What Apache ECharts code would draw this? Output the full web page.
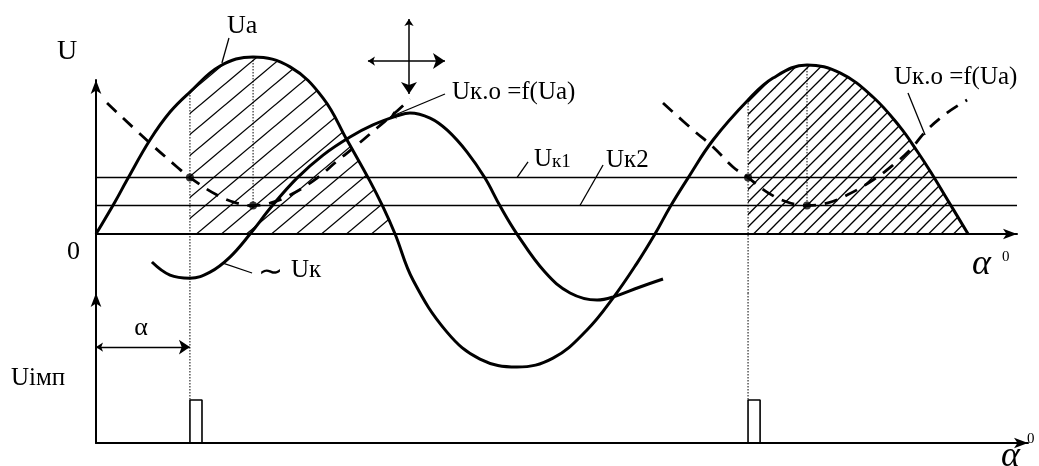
<!DOCTYPE html>
<html>
<head>
<meta charset="utf-8">
<script src="https://cdn.jsdelivr.net/npm/echarts@6/dist/echarts.min.js"></script>
<style>
  html, body { margin: 0; padding: 0; background: #fff; }
  #chart { width: 1039px; height: 466px; }
</style>
</head>
<body>
<div id="chart"></div>
<script>
// Phase angle in degrees, voltages in relative units (Ua peak = 100).

// Anode voltage Ua (two positive half-waves with the negative half-wave between them)
const uaCurve = [
  [0, 0], [11.3, 18.1], [18.5, 30.5], [32.2, 53.1], [44.2, 68.9], [56.1, 80.2],
  [74.1, 94.9], [93.8, 100], [115.9, 94.4], [135.6, 76.8], [149.9, 53.1],
  [163.6, 29.9], [171.4, 15.3], [178.6, 0], [189.3, -26.0], [209.6, -55.4],
  [229.3, -70.6], [251.4, -75.1], [272.9, -70.1], [293.2, -54.2], [308.7, -36.2],
  [323.1, -16.4], [333.8, 0], [342.8, 15.3], [353.5, 31.6], [368.5, 53.1],
  [389.4, 75.7], [404.3, 88.1], [424.6, 95.5], [444.3, 91.0], [464.0, 77.4],
  [480.1, 60.5], [490.3, 46.9], [498.1, 35.6], [508.2, 19.8], [520.8, 0]
];

// Alternating control voltage ~Uк
const ukCurve = [
  [33.4, -15.8], [44.2, -23.2], [56.1, -24.9], [68.1, -21.5], [80.0, -13.0],
  [92.0, 0], [105.1, 15.8], [120.0, 31.6], [135.6, 44.6], [151.7, 54.8],
  [165.4, 61.6], [179.8, 66.7], [187.5, 68.4], [199.5, 65.5], [209.6, 58.8],
  [221.6, 46.3], [232.3, 31.6], [241.3, 15.8], [251.4, 0], [268.1, -21.5],
  [283.1, -33.3], [299.2, -37.3], [308.7, -35.6], [324.9, -29.9], [338.6, -25.4]
];

// Critical control voltage Uк.о = f(Ua), first and second half-waves
const ukoCurve1 = [
  [6.6, 74.0], [32.2, 51.4], [48.4, 37.9], [56.1, 31.9], [72.3, 22.0],
  [84.2, 17.5], [93.8, 16.1], [103.9, 17.5], [115.9, 22.0], [132.0, 31.6],
  [143.9, 41.2], [155.9, 50.3], [167.8, 59.9], [179.8, 69.5], [187.5, 76.3]
];
const ukoCurve2 = [
  [338.6, 74.0], [356.5, 58.8], [368.5, 49.2], [380.4, 37.9], [389.4, 31.9],
  [400.7, 23.7], [412.7, 18.1], [424.6, 16.1], [436.6, 17.5], [448.5, 22.0],
  [464.0, 30.5], [476.0, 39.0], [486.1, 47.5], [496.3, 58.8], [508.2, 68.4],
  [520.2, 75.7]
];

// Control levels Uк1, Uк2 and their extent
const controlLevels = [31.9, 16.1];
const levelSpan = [0, 550];

// Firing points: angle α on Uк1 and the Ua peak on Uк2
const firingPoints = [[56.1, 31.9], [93.8, 16.1], [389.4, 31.9], [424.6, 16.1]];

// Firing angles, Ua peaks and the gate pulses
const firingAngles = [56.1, 389.4];
const peakAngles = [93.8, 424.6];
const peakValues = [100, 95.5];
const pulseWidth = 7.2;
const pulseHeight = 1;

// Axis ranges: upper (voltages) and lower (gate pulses)
const upperRange = { xMax: 550, yMin: -33.3, yMax: 87.0 };
const lowerRange = { xMax: 556.6, yMin: 0, yMax: 3.488 };

const serif = '"Liberation Serif", "Times New Roman", serif';
const black = '#000';

const chart = echarts.init(document.getElementById('chart'), null, { renderer: 'canvas' });

// Diagonal hatching tile: lines through (s, h) and (s + w, 0) repeated every `step`
function hatchTile(w, h, step, lw) {
  const c = document.createElement('canvas');
  c.width = w; c.height = h;
  const g = c.getContext('2d');
  g.strokeStyle = black;
  g.lineWidth = lw;
  for (let s = -w; s <= w + 0.01; s += step) {
    g.beginPath();
    g.moveTo(s - w, 2 * h);
    g.lineTo(s + 2 * w, -h);
    g.stroke();
  }
  return c;
}
const hatchA = { image: hatchTile(25, 21, 25, 1.3), repeat: 'repeat' };
const hatchB = { image: hatchTile(25, 25, 12.5, 1.3), repeat: 'repeat' };

// Conduction intervals: Ua from the firing angle to the end of the half-wave
const ua1End = uaCurve.find(p => p[1] === 0 && p[0] > firingAngles[0])[0];
const conduction1 = uaCurve.filter(p => p[0] >= firingAngles[0] && p[0] <= ua1End);
const conduction2 = uaCurve.filter(p => p[0] >= firingAngles[1]);

const SMOOTH = 0.4;

function axisPair(grid, r) {
  const line = {
    show: true, onZero: true,
    symbol: ['none', 'arrow'], symbolSize: [8, 14],
    lineStyle: { color: black, width: 2 }
  };
  const hidden = { axisTick: { show: false }, axisLabel: { show: false }, splitLine: { show: false } };
  return {
    x: Object.assign({ gridIndex: grid, type: 'value', min: 0, max: r.xMax, axisLine: line }, hidden),
    y: Object.assign({ gridIndex: grid, type: 'value', min: r.yMin, max: r.yMax, axisLine: line }, hidden)
  };
}
const upper = axisPair(0, upperRange);
const lower = axisPair(1, lowerRange);

const series = [];

// hatched conduction areas
[[conduction1, hatchA], [conduction2, hatchB]].forEach(([pts, pat]) => {
  series.push({
    type: 'line', data: pts, smooth: SMOOTH, symbol: 'none', clip: false, z: 1,
    lineStyle: { width: 0, opacity: 0 },
    areaStyle: { color: pat, opacity: 1 }
  });
});

// control levels
controlLevels.forEach(v => {
  series.push({
    type: 'line', data: [[levelSpan[0], v], [levelSpan[1], v]], symbol: 'none', clip: false, z: 2,
    lineStyle: { color: black, width: 1.6 }
  });
});

// dotted projection lines
const dotted = { color: black, width: 1, type: [1.5, 1.5] };
firingAngles.forEach(a => {
  const top = uaCurve.find(p => p[0] === a)[1];
  series.push({
    type: 'line', data: [[a, top], [a, upperRange.yMin]], symbol: 'none', clip: false, z: 2,
    lineStyle: dotted
  });
  series.push({
    type: 'line', xAxisIndex: 1, yAxisIndex: 1, data: [[a, lowerRange.yMax], [a, pulseHeight]],
    symbol: 'none', clip: false, z: 2, lineStyle: dotted
  });
});
peakAngles.forEach((a, i) => {
  series.push({
    type: 'line', data: [[a, peakValues[i]], [a, controlLevels[1]]], symbol: 'none', clip: false, z: 2,
    lineStyle: dotted
  });
});

// Ua and ~Uк
series.push({
  type: 'line', data: uaCurve, smooth: SMOOTH, symbol: 'none', clip: false, z: 4,
  lineStyle: { color: black, width: 3 }
});
series.push({
  type: 'line', data: ukCurve, smooth: SMOOTH, symbol: 'none', clip: false, z: 4,
  lineStyle: { color: black, width: 3 }
});

// Uк.о = f(Ua)
[ukoCurve1, ukoCurve2].forEach(c => {
  series.push({
    type: 'line', data: c, smooth: SMOOTH, symbol: 'none', clip: false, z: 3,
    lineStyle: { color: black, width: 2.8, type: [13, 9] }
  });
});

// firing points
series.push({
  type: 'scatter', data: firingPoints, symbol: 'circle', symbolSize: 8, clip: false, z: 5,
  itemStyle: { color: black }
});

// gate pulses
firingAngles.forEach(a => {
  series.push({
    type: 'line', xAxisIndex: 1, yAxisIndex: 1, symbol: 'none', clip: false, z: 3,
    data: [[a, 0], [a, pulseHeight], [a + pulseWidth, pulseHeight], [a + pulseWidth, 0]],
    lineStyle: { color: black, width: 1.6 }
  });
});

// leaders, the α dimension and the shift arrows
function seg(coords, grid, sym, size, width) {
  return {
    type: 'lines', coordinateSystem: 'cartesian2d', xAxisIndex: grid, yAxisIndex: grid,
    clip: false, z: 6, symbol: sym, symbolSize: size,
    lineStyle: { color: black, width: width, opacity: 1, curveness: 0 },
    data: [{ coords: coords }]
  };
}
series.push(seg([[75.2, 96.6], [79.4, 110.7]], 0, ['none', 'none'], 0, 1.3));      // Ua
series.push(seg([[175.6, 66.1], [208.4, 79.1]], 0, ['arrow', 'none'], [6, 10], 1.3)); // Uк.о 1
series.push(seg([[495.1, 55.9], [484.9, 79.7]], 0, ['none', 'none'], 0, 1.3));      // Uк.о 2
series.push(seg([[251.4, 31.9], [258.0, 40.7]], 0, ['none', 'none'], 0, 1.3));      // Uк1
series.push(seg([[289.0, 16.1], [302.8, 39.0]], 0, ['none', 'none'], 0, 1.3));      // Uк2
series.push(seg([[75.8, -16.4], [93.2, -22.0]], 0, ['none', 'none'], 0, 1.3));      // ~Uк
series.push(seg([[162.4, 97.7], [208.4, 97.7]], 0, ['arrow', 'arrow'], [7, 12], 1.5));
series.push(seg([[186.9, 121.5], [186.9, 79.1]], 0, ['arrow', 'arrow'], [7, 12], 1.5));
series.push(seg([[0, 2.23], [firingAngles[0], 2.23]], 1, ['arrow', 'arrow'], [7, 11], 1.3));

function txt(text, x, y, size, extra) {
  return {
    type: 'text', x: x, y: y, z: 10,
    style: Object.assign({
      text: text, fill: black, font: size + 'px ' + serif,
      textAlign: 'left', textVerticalAlign: 'middle'
    }, extra || {})
  };
}
function rich(x, y, big, small, main, sub) {
  return {
    type: 'text', x: x, y: y, z: 10,
    style: {
      text: '{a|' + main + '}{b|' + sub + '}', fill: black,
      textAlign: 'left', textVerticalAlign: 'middle',
      rich: {
        a: { fontSize: big, fontFamily: serif, fill: black, verticalAlign: 'bottom' },
        b: { fontSize: small, fontFamily: serif, fill: black, verticalAlign: 'bottom' }
      }
    }
  };
}

const labels = [
  txt('U', 57, 52, 28),
  txt('Ua', 227, 26, 26),
  txt('Uк.о =f(Ua)', 452, 92, 25),
  txt('Uк.о =f(Ua)', 894, 77, 25),
  rich(534, 159, 25, 19, 'U', 'к1'),
  txt('Uк2', 606, 160, 25),
  txt('0', 67, 252, 26),
  txt('∼', 258, 273, 30),
  txt('Uк', 291, 270, 25),
  txt('α', 141, 328, 26, { textAlign: 'center' }),
  txt('Uімп', 11, 378, 25),
  txt('α', 972, 265, 36, { font: 'italic 36px ' + serif }),
  txt('0', 1002, 257, 15),
  txt('α', 1001, 457, 36, { font: 'italic 36px ' + serif }),
  txt('0', 1027, 439, 15)
];

chart.setOption({
  animation: false,
  backgroundColor: '#fff',
  grid: [
    { left: 96, top: 80, width: 921, height: 213 },
    { left: 96, top: 293, width: 932, height: 150 }
  ],
  xAxis: [upper.x, lower.x],
  yAxis: [upper.y, lower.y],
  series: series,
  graphic: labels
});
</script>
</body>
</html>
